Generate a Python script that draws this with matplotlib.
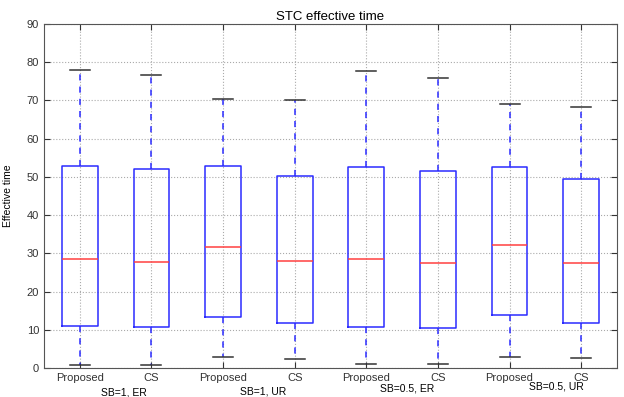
import matplotlib
matplotlib.use('Agg')
import matplotlib.pyplot as plt

plt.rcParams['font.family'] = ['Liberation Sans', 'DejaVu Sans']

# values
tick_labels = ['Proposed', 'CS', 'Proposed', 'CS', 'Proposed', 'CS', 'Proposed', 'CS']
whislo = [0.8, 0.8, 2.8, 2.4, 1.0, 1.0, 3.0, 2.7]
q1 = [11.0, 10.7, 13.3, 11.9, 10.8, 10.5, 13.8, 11.8]
med = [28.6, 27.8, 31.7, 28.0, 28.4, 27.6, 32.3, 27.5]
q3 = [52.9, 52.1, 52.9, 50.2, 52.6, 51.5, 52.7, 49.5]
whishi = [78.0, 76.7, 70.5, 70.0, 77.7, 75.9, 69.2, 68.2]
groups = ['SB=1, ER', 'SB=1, UR', 'SB=0.5, ER', 'SB=0.5, UR']
group_x = [1.62, 3.56, 5.57, 7.66]
group_y = [-0.070, -0.067, -0.061, -0.055]

stats = []
for i in range(len(tick_labels)):
    stats.append({'whislo': whislo[i], 'q1': q1[i], 'med': med[i], 'q3': q3[i],
                  'whishi': whishi[i], 'fliers': [], 'label': tick_labels[i]})

fig = plt.figure(figsize=(6.24, 3.97), dpi=100)
ax = fig.add_axes([44/624, 29/397, 573/624, 344/397])

ax.bxp(stats, widths=0.5, showfliers=False, capwidths=0.28,
       boxprops=dict(color='#2b2bff', linewidth=1.1),
       medianprops=dict(color='#ff4040', linewidth=1.1),
       whiskerprops=dict(color='#2b2bff', linestyle='--', linewidth=1.1, dashes=(4, 4)),
       capprops=dict(color='#333333', linewidth=1.1))

ax.set_ylim(0, 90)
ax.set_xlim(0.5, 8.5)
ax.set_yticks(range(0, 91, 10))
ax.grid(True, color='#aaaaaa', linestyle=':', linewidth=0.8)
ax.set_axisbelow(True)
ax.tick_params(direction='in', top=True, right=True, labelsize=8, colors='#333333', length=4)
for s in ax.spines.values():
    s.set_color('#555555')
ax.set_title('STC effective time', fontsize=9.5, pad=3)
ax.set_ylabel('Effective time', fontsize=7.5, labelpad=10)

for g, gx, gy in zip(groups, group_x, group_y):
    ax.text(gx, gy, g, transform=ax.get_xaxis_transform(), ha='center', va='center', fontsize=7.5)

fig.savefig('out.png', dpi=100)
